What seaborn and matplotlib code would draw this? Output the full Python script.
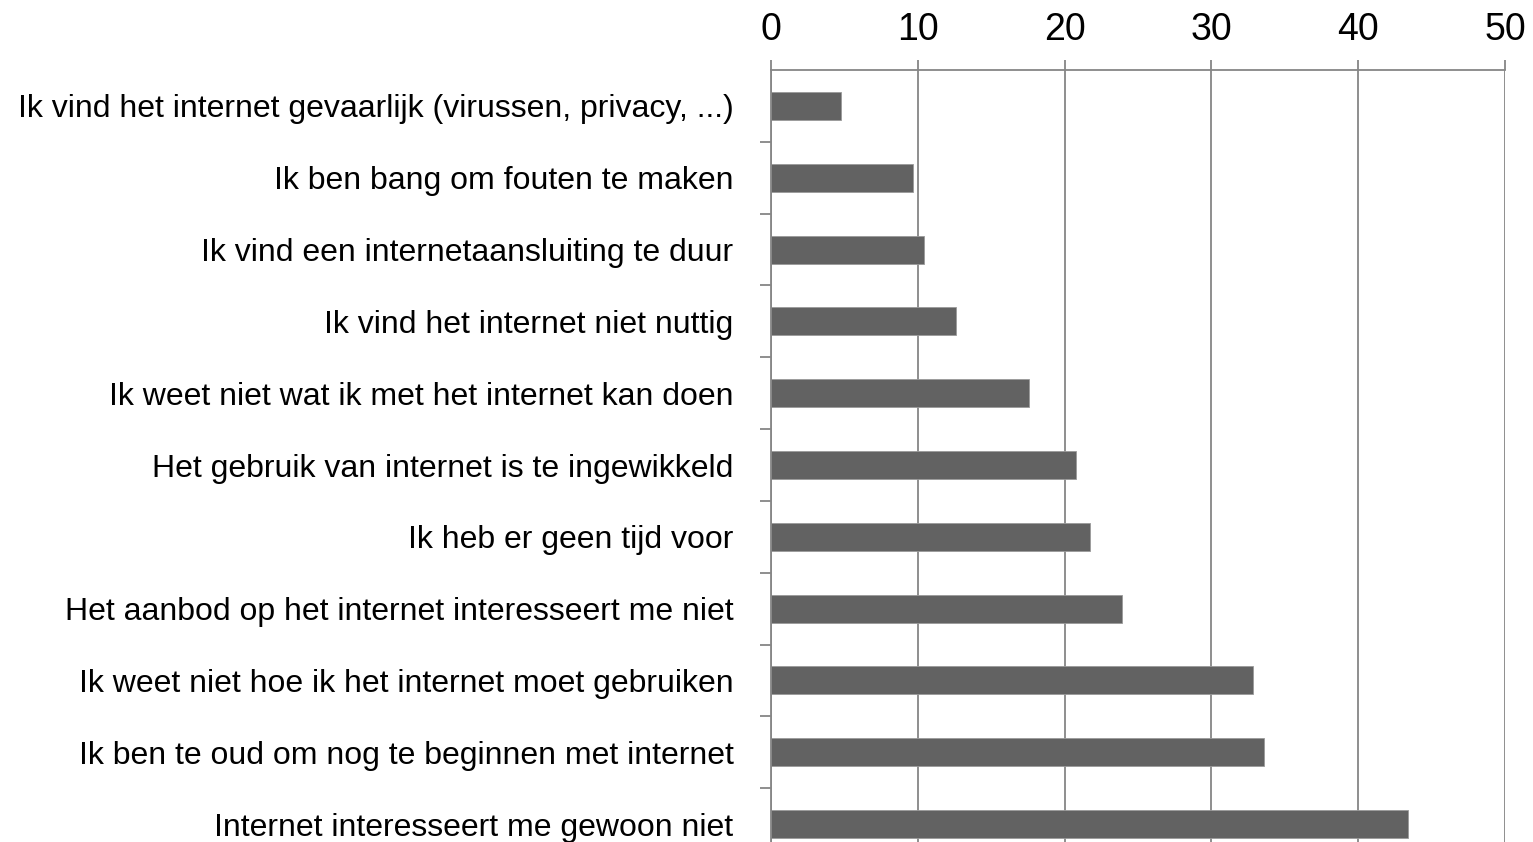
import matplotlib
matplotlib.use("Agg")
import matplotlib.pyplot as plt
import seaborn as sns
import pandas as pd
import numpy as np

categories = [
    "Ik vind het internet gevaarlijk (virussen, privacy, ...)",
    "Ik ben bang om fouten te maken",
    "Ik vind een internetaansluiting te duur",
    "Ik vind het internet niet nuttig",
    "Ik weet niet wat ik met het internet kan doen",
    "Het gebruik van internet is te ingewikkeld",
    "Ik heb er geen tijd voor",
    "Het aanbod op het internet interesseert me niet",
    "Ik weet niet hoe ik het internet moet gebruiken",
    "Ik ben te oud om nog te beginnen met internet",
    "Internet interesseert me gewoon niet",
]
values = [4.8, 9.7, 10.4, 12.6, 17.6, 20.8, 21.7, 23.9, 32.8, 33.6, 43.4]
x_ticks = [0, 10, 20, 30, 40, 50]

sns.set_theme(style="white")
plt.rcParams['font.family'] = ['Liberation Sans', 'DejaVu Sans']

df = pd.DataFrame({"cat": categories, "val": values})

fig = plt.figure(figsize=(15.33, 8.42), dpi=100)
ax = fig.add_axes([771/1533, -18/842, (1505-771)/1533, 790/842])

grid_c = "#868686"
sns.barplot(data=df, x="val", y="cat", orient="h", color="#626262",
            saturation=1, width=0.39, edgecolor="#9a9a9a", linewidth=0.6, ax=ax)

ax.set_xlim(0, 50)
ax.set_ylim(len(categories) - 0.5, -0.5)
ax.set_xticks(x_ticks)
ax.set_xticklabels([str(t) for t in x_ticks])
ax.xaxis.tick_top()
ax.set_xlabel("")
ax.set_ylabel("")
ax.xaxis.grid(True, color=grid_c, linewidth=1.3)
ax.yaxis.grid(False)
ax.set_axisbelow(True)

for s in ["right", "bottom"]:
    ax.spines[s].set_visible(False)
for s in ["left", "top"]:
    ax.spines[s].set_color(grid_c)
    ax.spines[s].set_linewidth(1.3)

ax.tick_params(axis="x", which="major", top=True, bottom=False, length=7.5,
               width=1.3, color=grid_c, labelsize=27, pad=8, labelcolor="black")
ax.tick_params(axis="y", which="major", left=False, length=0, pad=27,
               labelsize=23, labelcolor="black")
ax.set_yticks(np.arange(len(categories)) + 0.5, minor=True)
ax.tick_params(axis="y", which="minor", left=True, length=8, width=1.3, color=grid_c)

fig.savefig("out.png", dpi=100)
